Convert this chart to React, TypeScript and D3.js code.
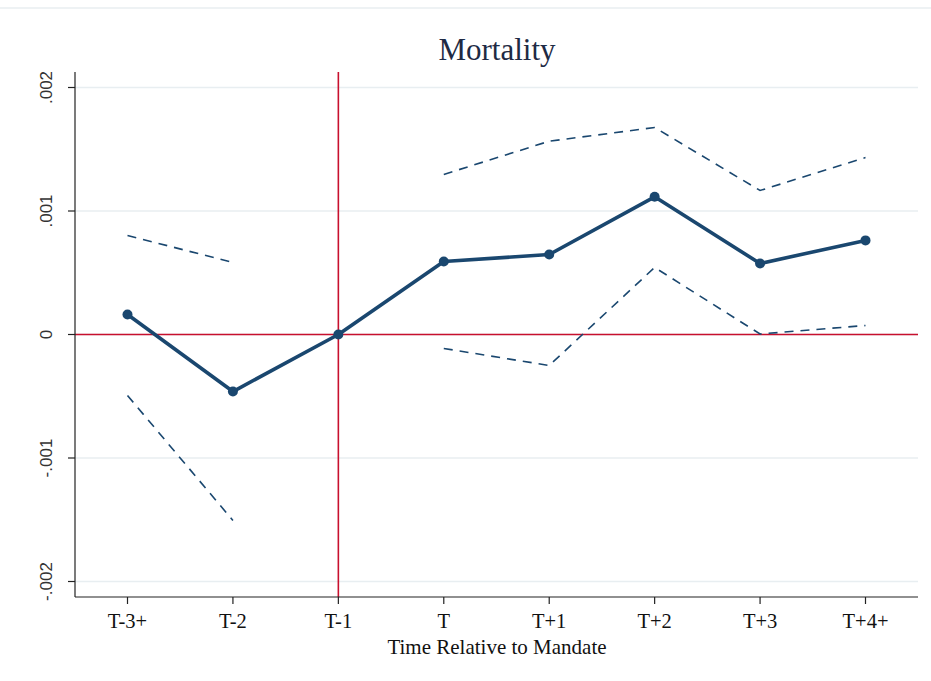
import React from "react";
import * as d3 from "d3";

const categories = ["T-3+", "T-2", "T-1", "T", "T+1", "T+2", "T+3", "T+4+"];
const estimate = [0.000162, -0.000462, 0, 0.000591, 0.000648, 0.001115, 0.000575, 0.000762];
const upperCI: (number | null)[] = [0.000802, 0.000583, null, 0.001296, 0.001565, 0.001676, 0.001166, 0.001433];
const lowerCI: (number | null)[] = [-0.000494, -0.001506, null, -0.000113, -0.000251, 0.000543, 0.000004, 0.000073];
const yTicks = [-0.002, -0.001, 0, 0.001, 0.002];
const yTickLabels = ["-.002", "-.001", "0", ".001", ".002"];

const W = 931;
const H = 681;
const navy = "#1a476f";
const red = "#c8102e";
const plot = { left: 75, right: 918, top: 72, bottom: 597 };

export default function App() {
  const x = d3.scalePoint<string>().domain(categories).range([127.5, 865.5]);
  const y = d3.scaleLinear().domain([-0.002, 0.002]).range([581.5, 87.5]);

  const mainLine = d3
    .line<number>()
    .x((_, i) => x(categories[i])!)
    .y((d) => y(d));

  const ciLine = d3
    .line<number | null>()
    .defined((d) => d !== null)
    .x((_, i) => x(categories[i])!)
    .y((d) => y(d as number));

  const serif = "'Liberation Serif', 'DejaVu Serif', serif";
  const sans = "'Liberation Sans', Arial, sans-serif";

  return (
    <svg
      width={W}
      height={H}
      style={{ position: "absolute", left: 0, top: 0, background: "#fff" }}
    >
      <line x1={0} x2={W} y1={8} y2={8} stroke="#e9eef0" strokeWidth={1.5} />

      {/* horizontal grid */}
      {yTicks.map((t) => (
        <line
          key={"g" + t}
          x1={plot.left}
          x2={plot.right}
          y1={y(t)}
          y2={y(t)}
          stroke="#e8eef1"
          strokeWidth={1.5}
        />
      ))}

      {/* reference lines */}
      <line x1={plot.left} x2={plot.right} y1={y(0)} y2={y(0)} stroke={red} strokeWidth={1.6} />
      <line
        x1={x("T-1")}
        x2={x("T-1")}
        y1={plot.top}
        y2={plot.bottom}
        stroke={red}
        strokeWidth={1.6}
      />

      {/* confidence bounds */}
      <path d={ciLine(upperCI) ?? ""} fill="none" stroke={navy} strokeWidth={1.6} strokeDasharray="9,7" />
      <path d={ciLine(lowerCI) ?? ""} fill="none" stroke={navy} strokeWidth={1.6} strokeDasharray="9,7" />

      {/* point estimates */}
      <path d={mainLine(estimate) ?? ""} fill="none" stroke={navy} strokeWidth={3.6} strokeLinejoin="round" />
      {estimate.map((v, i) => (
        <circle key={"p" + i} cx={x(categories[i])} cy={y(v)} r={5} fill={navy} />
      ))}

      {/* y axis */}
      <line x1={plot.left} x2={plot.left} y1={plot.top} y2={plot.bottom} stroke="#222" strokeWidth={1.2} />
      {yTicks.map((t, i) => (
        <g key={"yt" + t}>
          <line x1={plot.left - 7} x2={plot.left} y1={y(t)} y2={y(t)} stroke="#222" strokeWidth={1.2} />
          <text
            transform={`translate(${52},${y(t)}) rotate(-90)`}
            textAnchor="middle"
            fontFamily={sans}
            fontSize={17}
            fill="#333"
          >
            {yTickLabels[i]}
          </text>
        </g>
      ))}

      {/* x axis */}
      <line x1={plot.left} x2={plot.right} y1={plot.bottom} y2={plot.bottom} stroke="#222" strokeWidth={1.2} />
      {categories.map((c) => (
        <g key={"xt" + c}>
          <line x1={x(c)} x2={x(c)} y1={plot.bottom} y2={plot.bottom + 7} stroke="#222" strokeWidth={1.2} />
          <text x={x(c)} y={628} textAnchor="middle" fontFamily={serif} fontSize={20.5} fill="#111">
            {c}
          </text>
        </g>
      ))}
      <text x={497} y={653.5} textAnchor="middle" fontFamily={serif} fontSize={21} fill="#111">
        Time Relative to Mandate
      </text>

      <text x={497} y={60} textAnchor="middle" fontFamily={serif} fontSize={31} fill="#1e2a44">
        Mortality
      </text>
    </svg>
  );
}
